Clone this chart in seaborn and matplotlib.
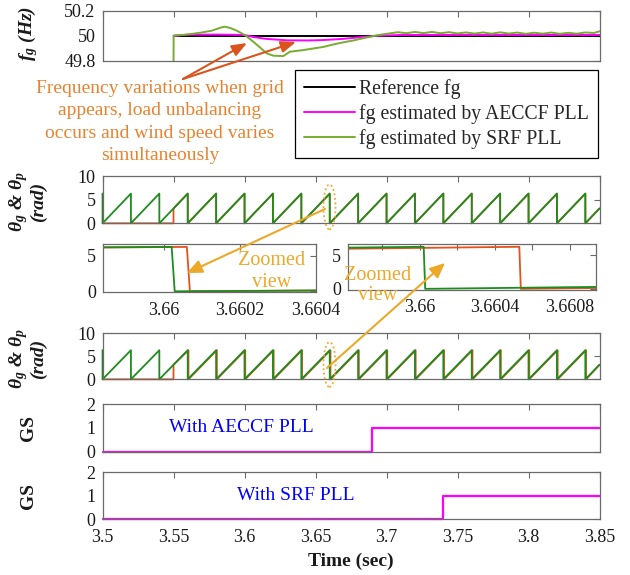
import numpy as np
import pandas as pd
import matplotlib
matplotlib.use("Agg")
import matplotlib.pyplot as plt
import seaborn as sns
from matplotlib.patches import Ellipse, FancyArrowPatch

# ---------------- data ----------------
# Panel 1 : grid frequency (Hz)
ref_t = [3.55, 3.85]
ref_f = [50.0, 50.0]

aeccf_t = [3.55, 3.56, 3.58, 3.60, 3.606, 3.615, 3.63, 3.645, 3.655, 3.67, 3.683, 3.695, 3.71, 3.85]
aeccf_f = [50.0, 50.008, 50.009, 50.006, 49.99, 49.975, 49.963, 49.962, 49.965, 49.975, 49.99, 50.0,
           50.006, 50.006]

srf_t = [3.5500, 3.5501, 3.560, 3.569, 3.577, 3.583, 3.586, 3.590, 3.5945, 3.6003, 3.6062, 3.611,
         3.6156, 3.6203, 3.6273, 3.632, 3.6414, 3.648, 3.6555, 3.6625, 3.6696, 3.6767, 3.6837, 3.693,
         3.7025, 3.708, 3.714, 3.720, 3.726, 3.732, 3.738, 3.744, 3.750, 3.756, 3.762, 3.768, 3.774,
         3.780, 3.786, 3.792, 3.798, 3.804, 3.810, 3.816, 3.822, 3.828, 3.834, 3.840, 3.846, 3.850]
srf_f = [49.70, 50.000, 50.010, 50.024, 50.040, 50.064, 50.072, 50.062, 50.040, 50.005, 49.952, 49.905,
         49.859, 49.840, 49.837, 49.872, 49.885, 49.897, 49.910, 49.930, 49.947, 49.962, 49.980, 50.003,
         50.019, 50.028, 50.020, 50.030, 50.021, 50.030, 50.020, 50.028, 50.018, 50.026, 50.017, 50.026,
         50.016, 50.027, 50.017, 50.025, 50.015, 50.024, 50.016, 50.025, 50.015, 50.023, 50.016, 50.026,
         50.022, 50.035]

legend_labels = ["Reference fg", "fg estimated by AECCF PLL", "fg estimated by SRF PLL"]

# Panels 2-3 : phase angles (rad)
theta_peak = 6.283          # top of each sawtooth tooth
theta_drop = 0.000008       # duration of each reset edge (s)
pll_resets = [3.50002, 3.52002, 3.54002, 3.56002, 3.58002, 3.60002, 3.62002, 3.64002, 3.66002,
              3.68002, 3.70002, 3.72002, 3.74002, 3.76002, 3.78002, 3.80002, 3.82002, 3.84002]
pll_end = 3.14              # value of theta_p at t = 3.85
grid_on = 3.55              # grid angle appears
grid_on_value = 3.14        # theta_g value when it appears
grid_lag_aeccf = 0.00004    # reset lag of theta_g vs theta_p (upper panel)
grid_lag_srf = 0.00051      # reset lag of theta_g vs theta_p (lower panel)

# Panels 4-5 : grid synchronisation signal
gs_aeccf_t = [3.5, 3.69, 3.85]
gs_aeccf = [0, 1, 1]
gs_srf_t = [3.5, 3.74, 3.85]
gs_srf = [0, 1, 1]

x_ticks = [3.5, 3.55, 3.6, 3.65, 3.7, 3.75, 3.8, 3.85]
x_ticklabels = ["3.5", "3.55", "3.6", "3.65", "3.7", "3.75", "3.8", "3.85"]
zoomL_ticks = [3.66, 3.6602, 3.6604]
zoomL_labels = ["3.66", "3.6602", "3.6604"]
zoomR_ticks = [3.6598, 3.66, 3.6602, 3.6604, 3.6606, 3.6608]
zoomR_labels = ["", "3.66", "", "3.6604", "", "3.6608"]


def pll_curve():
    t, v = [3.5], [theta_peak]
    for r in pll_resets:
        t += [r, r + theta_drop]
        v += [theta_peak, 0.0]
    t.append(3.85)
    v.append(pll_end)
    return pd.DataFrame({"t": t, "theta": v})


def grid_curve(lag):
    t, v = [3.5, grid_on, grid_on], [0.0, 0.0, grid_on_value]
    for r in pll_resets:
        if r + lag > grid_on:
            t += [r + lag, r + lag + theta_drop]
            v += [theta_peak, 0.0]
    t.append(3.85)
    v.append(pll_end)
    return pd.DataFrame({"t": t, "theta": v})


# ---------------- style ----------------
sns.set_theme(style="white")
plt.rcParams["font.family"] = ["Liberation Serif", "DejaVu Serif"]
plt.rcParams["mathtext.fontset"] = "custom"
plt.rcParams["mathtext.it"] = "Liberation Serif:italic:bold"
plt.rcParams["mathtext.rm"] = "Liberation Serif:bold"
plt.rcParams["mathtext.bf"] = "Liberation Serif:bold"

W, H = 630, 575
fig = plt.figure(figsize=(W / 100, H / 100), dpi=100)


def rect(x0, y0, x1, y1):
    return [x0 / W, 1 - y1 / H, (x1 - x0) / W, (y1 - y0) / H]


def P(x, y):
    return (x / W, 1 - y / H)


SPINE = "#6a6a6a"
TICKFS = 13
C_RED = "#E0531F"
C_GREEN = "#1E8C1E"
C_FG_GREEN = "#77AC30"
C_MAG = "#FF00FF"
C_ORANGE = "#E9822E"
C_ARROW = "#D9541E"
C_GOLD = "#EDA828"


def style(ax):
    for s in ax.spines.values():
        s.set_color(SPINE)
        s.set_linewidth(0.9)
    ax.tick_params(direction="in", top=True, right=True, length=4, width=0.8,
                   color=SPINE, labelcolor="#1a1a1a", labelsize=TICKFS, pad=5)
    ax.set_xlabel("")
    ax.set_ylabel("")
    ax.grid(False)


ax1 = fig.add_axes(rect(102.5, 10.7, 599.5, 60.7))
ax2 = fig.add_axes(rect(102.5, 176, 599.5, 223.3))
axL = fig.add_axes(rect(103.3, 244, 316, 292))
axR = fig.add_axes(rect(348.3, 244, 596, 289.5))
ax3 = fig.add_axes(rect(102.5, 333, 599.5, 379.3))
ax4 = fig.add_axes(rect(102.5, 404.3, 599.5, 451.7))
ax5 = fig.add_axes(rect(102.5, 472.3, 599.5, 519))

# ---- panel 1
sns.lineplot(x=ref_t, y=ref_f, ax=ax1, color="black", lw=1.4, estimator=None, sort=False,
             label=legend_labels[0])
sns.lineplot(x=aeccf_t, y=aeccf_f, ax=ax1, color=C_MAG, lw=1.4, estimator=None, sort=False,
             label=legend_labels[1])
sns.lineplot(x=srf_t, y=srf_f, ax=ax1, color=C_FG_GREEN, lw=1.4, estimator=None, sort=False,
             label=legend_labels[2])
handles = list(ax1.get_lines())[:3]
ax1.get_legend().remove()
ax1.set_ylim(49.8, 50.2)
ax1.set_yticks([49.8, 50.0, 50.2], ["49.8", "50", "50.2"])

# ---- panels 2, 3 and zooms
pll = pll_curve()
g_a = grid_curve(grid_lag_aeccf)
g_s = grid_curve(grid_lag_srf)
for ax, g, clip in [(ax2, g_a, False), (axL, g_a, True), (ax3, g_s, False), (axR, g_s, True)]:
    sns.lineplot(data=g, x="t", y="theta", ax=ax, color=C_RED, lw=1.3, estimator=None,
                 sort=False, clip_on=clip)
    sns.lineplot(data=pll, x="t", y="theta", ax=ax, color=C_GREEN, lw=1.3, estimator=None,
                 sort=False, clip_on=clip)
for ax in (ax2, ax3):
    ax.set_ylim(0, 10)
    ax.set_yticks([0, 5, 10], ["0", "5", "10"])
for ax in (axL, axR):
    ax.set_ylim(-0.1, 6.7)
    ax.set_yticks([0, 5], ["0", "5"])
axL.set_xlim(3.65984, 3.6604)
axL.set_xticks(zoomL_ticks, zoomL_labels)
axR.set_xlim(3.659618, 3.660939)
axR.set_xticks(zoomR_ticks, zoomR_labels)

# ---- panels 4, 5
for ax, t, v in [(ax4, gs_aeccf_t, gs_aeccf), (ax5, gs_srf_t, gs_srf)]:
    sns.lineplot(x=t, y=v, ax=ax, color=C_MAG, lw=1.6, estimator=None, sort=False,
                 drawstyle="steps-post", clip_on=False)
    ax.set_ylim(0, 2)
    ax.set_yticks([0, 1, 2], ["0", "1", "2"])
ax4.text(3.5975, 1, "With AECCF PLL", color="blue", ha="center", va="center", fontsize=14)
ax5.text(3.636, 1, "With SRF PLL", color="blue", ha="center", va="center", fontsize=14)

for ax in (ax1, ax2, ax3, ax4, ax5):
    ax.set_xlim(3.5, 3.85)
    ax.set_xticks(x_ticks, x_ticklabels)
for ax in (ax1, ax2, ax3, ax4):
    ax.tick_params(labelbottom=False)
for ax in (ax1, ax2, axL, axR, ax3, ax4, ax5):
    style(ax)
ax5.tick_params(axis="x", pad=7)
axL.tick_params(axis="x", pad=7)
axR.tick_params(axis="x", pad=7)

# ---------------- labels ----------------
lab = dict(ha="center", va="center", rotation=90, fontweight="bold", fontstyle="italic",
           color="#1a1a1a")
fig.text(*P(28, 33), r"$f_g$ (Hz)", fontsize=14, **lab)
for top in (176, 333):
    fig.text(*P(27, top + 26), "$\\theta_g$ & $\\theta_p$\n(rad)", fontsize=14,
             multialignment="center", linespacing=0.95, **lab)
for yc in (428, 496):
    fig.text(*P(28, yc), "GS", ha="center", va="center", rotation=90, fontweight="bold",
             fontsize=14, color="#1a1a1a")
fig.text(*P(351, 561), "Time (sec)", ha="center", va="center", fontweight="bold", fontsize=14,
         color="#1a1a1a")

# legend
leg = fig.legend(handles=handles, labels=legend_labels, loc="upper left",
                 bbox_to_anchor=P(295, 70), bbox_transform=fig.transFigure, frameon=True,
                 fancybox=False, edgecolor="black", framealpha=1, fontsize=14.2,
                 handlelength=2.6, handletextpad=0.2, borderpad=0.45, labelspacing=0.26,
                 borderaxespad=0)
leg.get_frame().set_linewidth(0.9)

# annotation text and arrows
fig.text(*P(160, 122), "Frequency variations when grid\nappears, load unbalancing\n"
         "occurs and wind speed varies\nsimultaneously", ha="center", va="center",
         multialignment="center", fontsize=14, color=C_ORANGE, linespacing=1.42)
for tip in [(247, 43), (296, 42)]:
    fig.add_artist(FancyArrowPatch(P(183, 79), P(*tip), transform=fig.transFigure,
                                   arrowstyle="-|>,head_length=9,head_width=3.5",
                                   color=C_ARROW, lw=1.5, shrinkA=0, shrinkB=0))

fig.text(*P(272, 271.5), "Zoomed\nview", ha="center", va="center", fontsize=14.5,
         color=C_GOLD, linespacing=1.15)
fig.text(*P(378, 285.5), "Zoomed\nview", ha="center", va="center", fontsize=14.5,
         color=C_GOLD, linespacing=1.05)
fig.add_artist(FancyArrowPatch(P(325, 209), P(187, 273), transform=fig.transFigure,
                               arrowstyle="-|>,head_length=9,head_width=4", color=C_GOLD,
                               lw=1.5, shrinkA=0, shrinkB=0))
fig.add_artist(FancyArrowPatch(P(327, 368), P(445, 263), transform=fig.transFigure,
                               arrowstyle="-|>,head_length=9,head_width=4", color=C_GOLD,
                               lw=1.5, shrinkA=0, shrinkB=0))
for yc in (207, 364.5):
    fig.add_artist(Ellipse(P(329.5, yc), width=12 / W, height=45 / H, transform=fig.transFigure,
                           fill=False, ls=(0, (1, 1.5)), lw=1.3, ec=C_GOLD))

fig.savefig("out.png", dpi=100)
